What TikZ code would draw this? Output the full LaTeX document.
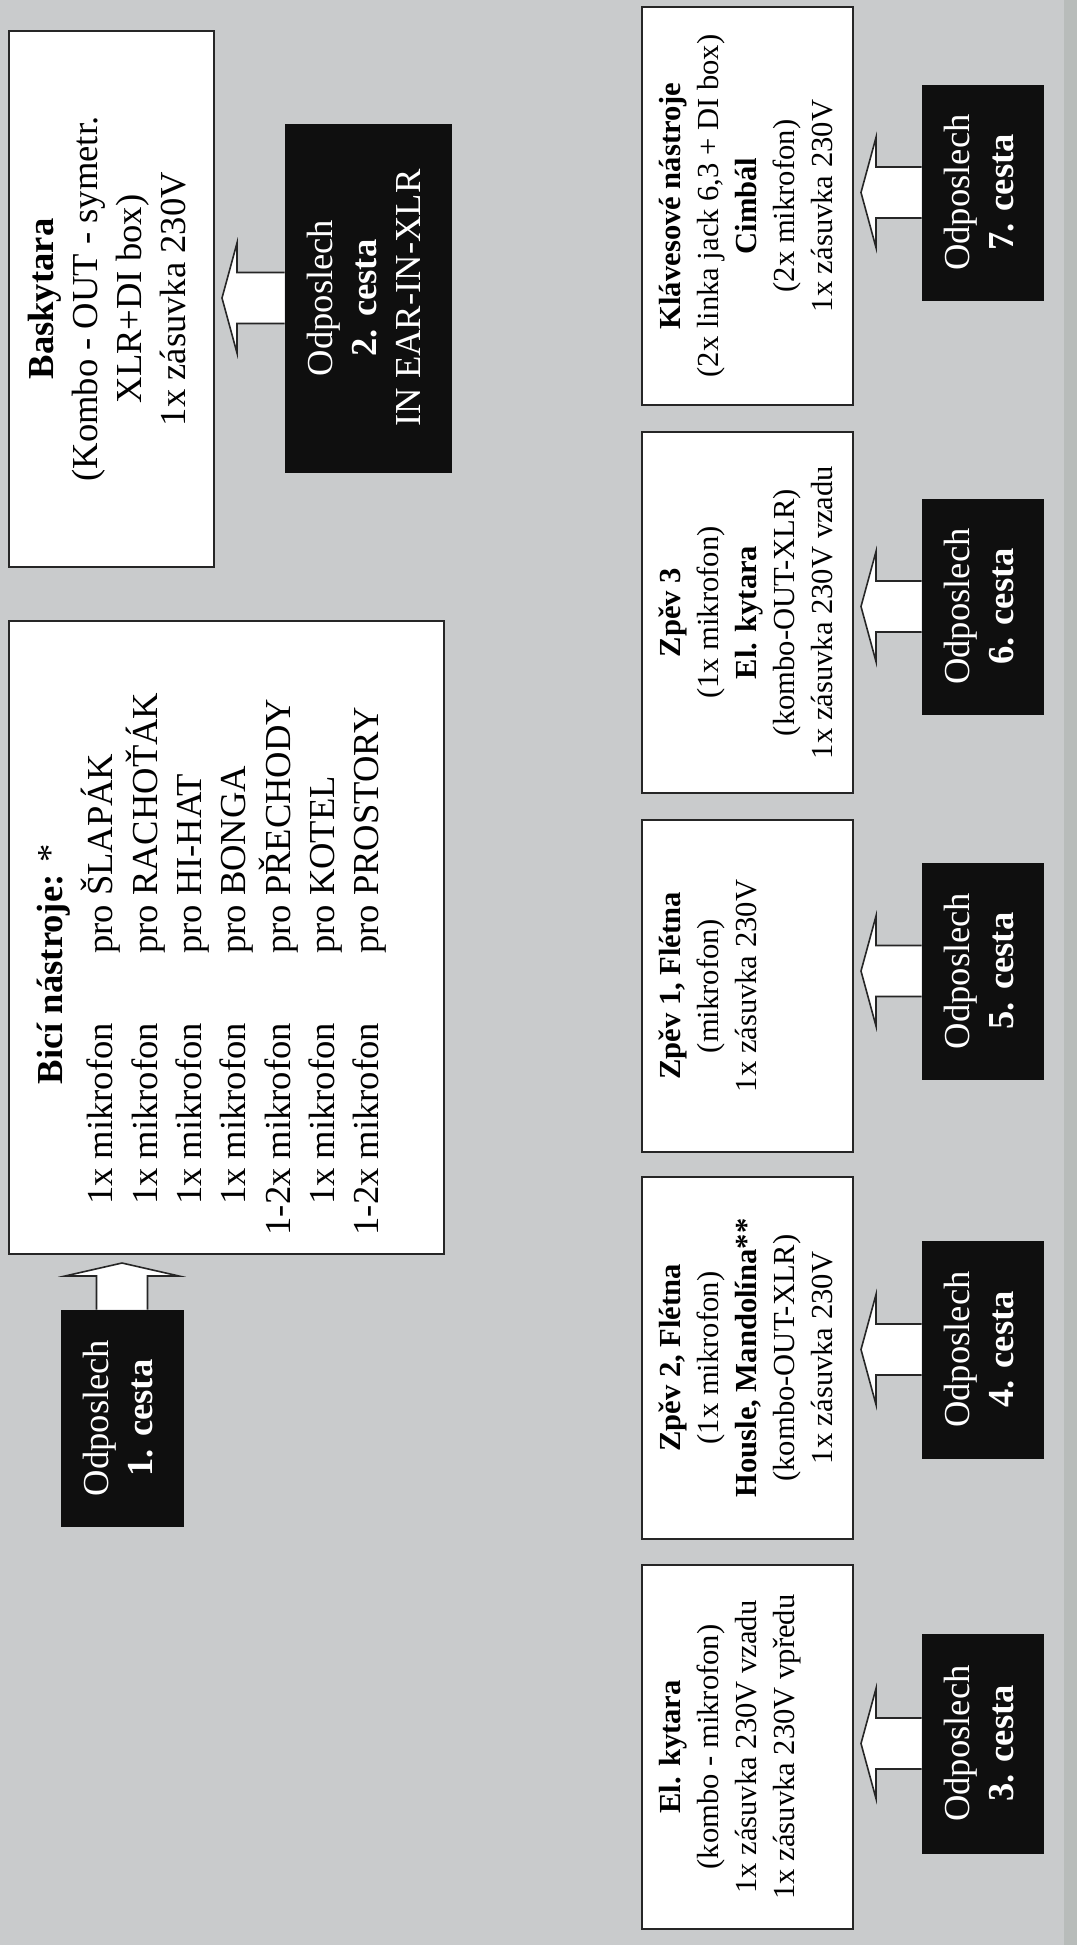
\documentclass[tikz,border=0pt]{standalone}
\usepackage{fontspec}
\setmainfont{Liberation Serif}
\usetikzlibrary{calc}
\definecolor{bgc}{RGB}{201,203,204}
\definecolor{stripc}{RGB}{184,188,186}
\newcommand{\bigf}{\fontsize{18.3pt}{22pt}\selectfont}
\newcommand{\smallf}{\fontsize{15.3pt}{19pt}\selectfont}
\newcommand{\rtxt}[1]{\rotatebox{90}{\begin{tabular}{@{}c@{}}#1\end{tabular}}}
\newcommand{\harrow}[2]{\filldraw[barrow] let \p1=(#1.west), \p2=(#2.east) in
  (\x1,\y1+12.75pt) -- (\x2+11pt,\y1+12.75pt) -- (\x2+11pt,\y1+27.5pt) -- (\x2+3.5pt,\y1)
  -- (\x2+11pt,\y1-27.5pt) -- (\x2+11pt,\y1-12.75pt) -- (\x1,\y1-12.75pt);}
\begin{document}
\begin{tikzpicture}[x=0.5pt,y=-0.5pt,
  wbox/.style={draw=black!85, fill=white, line width=1pt, inner sep=0pt},
  bbox/.style={fill=black!94, draw=black!94, text=white, font=\bigf, inner sep=0pt},
  txt/.style={inner sep=0pt, anchor=west},
  barrow/.style={draw=black!85, fill=white, line width=0.8pt, line join=miter}]
\fill[bgc] (0,0) rectangle (1077,1945);
\fill[stripc] (1064,0) rectangle (1077,1945);
\useasboundingbox (0,0) rectangle (1077,1945);

% left column
\node[wbox, minimum width=102.5pt, minimum height=268pt] (bas) at (111.5,299) {};
\node[txt, font=\bigf] (bastxt) at ($(bas.west)+(14,0)$)
  {\rtxt{\textbf{Baskytara}\\(Kombo - OUT - symetr.\\XLR+DI box)\\1x zásuvka 230V}};
\node[bbox, minimum width=83pt, minimum height=174pt] (o2) at (368,298)
  {\rtxt{Odposlech\\\textbf{2. cesta}\\IN EAR-IN-XLR}};

\node[wbox, minimum width=217.5pt, minimum height=316.5pt] (bici) at (226.5,937.5) {};
\node[txt, font=\bigf] (bicitxt) at ($(bici.west)+(23,26.5)$)
  {\rotatebox{90}{\begin{tabular}{@{}r@{\hspace{34.5pt}}l@{}}
  \multicolumn{2}{c}{\textbf{Bicí nástroje:} *}\\[3pt]
  1x mikrofon & pro ŠLAPÁK\\
  1x mikrofon & pro RACHOŤÁK\\
  1x mikrofon & pro HI-HAT\\
  1x mikrofon & pro BONGA\\
  1-2x mikrofon & pro PŘECHODY\\
  1x mikrofon & pro KOTEL\\
  1-2x mikrofon & pro PROSTORY
  \end{tabular}}};
\node[bbox, minimum width=61pt, minimum height=108pt] (o1) at (122,1418)
  {\rtxt{Odposlech\\\textbf{1. cesta}}};

% right column
\node[wbox, minimum width=105.5pt, minimum height=199pt] (kl) at (747.5,206) {};
\node[txt, font=\smallf] (kltxt) at ($(kl.west)+(12,0)$)
  {\rtxt{\textbf{Klávesové nástroje}\\(2x linka jack 6,3 + DI box)\\\textbf{Cimbál}\\(2x mikrofon)\\1x zásuvka 230V}};
\node[wbox, minimum width=105.5pt, minimum height=180.5pt] (z3) at (747.5,612.5) {};
\node[txt, font=\smallf] (z3txt) at ($(z3.west)+(12,0)$)
  {\rtxt{\textbf{Zpěv 3}\\(1x mikrofon)\\\textbf{El. kytara}\\(kombo-OUT-XLR)\\1x zásuvka 230V vzadu}};
\node[wbox, minimum width=105.5pt, minimum height=166pt] (z1) at (747.5,986) {};
\node[txt, font=\smallf] (z1txt) at ($(z1.west)+(12,0)$)
  {\rtxt{\textbf{Zpěv 1, Flétna}\\(mikrofon)\\1x zásuvka 230V}};
\node[wbox, minimum width=105.5pt, minimum height=181pt] (z2) at (747.5,1358) {};
\node[txt, font=\smallf] (z2txt) at ($(z2.west)+(12,0)$)
  {\rtxt{\textbf{Zpěv 2, Flétna}\\(1x mikrofon)\\\textbf{Housle, Mandolína**}\\(kombo-OUT-XLR)\\1x zásuvka 230V}};
\node[wbox, minimum width=105.5pt, minimum height=182pt] (ek) at (747.5,1747) {};
\node[txt, font=\smallf] (ektxt) at ($(ek.west)+(12,0)$)
  {\rtxt{\textbf{El. kytara}\\(kombo - mikrofon)\\1x zásuvka 230V vzadu\\1x zásuvka 230V vpředu}};

\node[bbox, minimum width=60.5pt, minimum height=107.5pt] (o7) at (982.5,192.5) {\rtxt{Odposlech\\\textbf{7. cesta}}};
\node[bbox, minimum width=60.5pt, minimum height=107.5pt] (o6) at (982.5,606.5) {\rtxt{Odposlech\\\textbf{6. cesta}}};
\node[bbox, minimum width=60.5pt, minimum height=108pt] (o5) at (982.5,971) {\rtxt{Odposlech\\\textbf{5. cesta}}};
\node[bbox, minimum width=60.5pt, minimum height=108.5pt] (o4) at (982.5,1349.5) {\rtxt{Odposlech\\\textbf{4. cesta}}};
\node[bbox, minimum width=60.5pt, minimum height=109.5pt] (o3) at (982.5,1743.5) {\rtxt{Odposlech\\\textbf{3. cesta}}};

% block arrows
\harrow{o2}{bas}
\harrow{o7}{kl}
\harrow{o6}{z3}
\harrow{o5}{z1}
\harrow{o4}{z2}
\harrow{o3}{ek}
\filldraw[barrow] let \p1=(o1.north), \p2=(bici.south) in
  (\x1-12.75pt,\y1) -- (\x1-12.75pt,\y2-10.5pt) -- (\x1-28.5pt,\y2-10.5pt) -- (\x1,\y2-4pt)
  -- (\x1+28.5pt,\y2-10.5pt) -- (\x1+12.75pt,\y2-10.5pt) -- (\x1+12.75pt,\y1);
\end{tikzpicture}
\end{document}
